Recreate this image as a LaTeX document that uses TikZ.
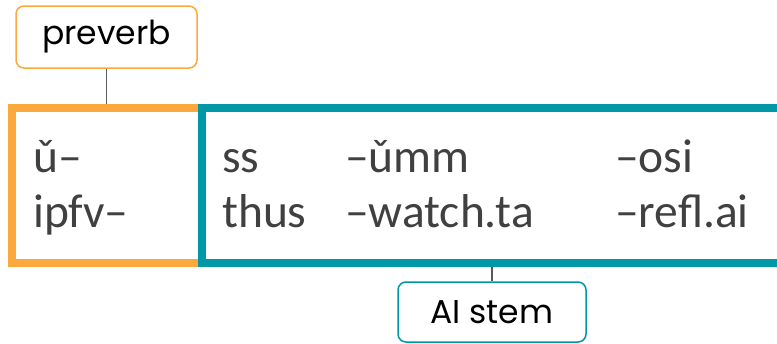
\documentclass[tikz,border=0pt]{standalone}
\usepackage{fontspec}
\setmainfont{Carlito}
\newfontfamily\tagfont{Poppins}
\definecolor{pvorange}{HTML}{FBA93C}
\definecolor{stemteal}{HTML}{0098A6}
\definecolor{morphgray}{HTML}{404040}
\tikzset{
  tagbox/.style={draw, rounded corners=8pt, line width=1.5pt, fill=white,
    font=\tagfont\fontsize{33}{40}\selectfont, text=black},
  morph/.style={anchor=base west, inner sep=0pt, text=morphgray,
    font=\fontsize{47.5}{56}\selectfont},
  link/.style={draw=black!65, line width=1.5pt}
}

\begin{document}
\begin{tikzpicture}[x=1pt,y=-1pt]
  \useasboundingbox (0,0) rectangle (777,343);
  \clip (0,0) rectangle (777,343);
  % the two slots
  \node[draw=pvorange, line width=8pt, minimum width=190pt, minimum height=155pt,
        inner sep=0pt] (pv) at (107,185.5) {};
  \node[draw=stemteal, line width=8pt, minimum width=600pt, minimum height=155pt,
        inner sep=0pt] (stem) at (502,185.5) {};
  % morphemes and glosses
  \node[morph] (pvform)  at (33,172)  {ǔ–};
  \node[morph] (pvgloss) at (33,227)  {ipfv–};
  \node[morph] (aform)   at (222,172) {ss};
  \node[morph] (agloss)  at (222,227) {thus};
  \node[morph] (bform)   at (345,172) {–ǔmm};
  \node[morph] (bgloss)  at (345,227) {–watch.ta};
  \node[morph] (cform)   at (615,172) {–osi};
  \node[morph] (cgloss)  at (615,227) {–refl.ai};
  % labels
  \node[tagbox, draw=pvorange, minimum width=181pt, minimum height=62pt]
       (pvtag) at (106.5,37) {preverb};
  \node[tagbox, draw=stemteal, minimum width=188pt, minimum height=60pt]
       (stemtag) at (492,312) {AI stem};
  \coordinate (pvtop) at (pvtag.south |- pv.north);
  \coordinate (stembot) at (stemtag.north |- stem.south);
  \draw[link] (pvtag.south) -- (pvtop);
  \draw[link] (stembot) -- (stemtag.north);
\end{tikzpicture}
\end{document}
